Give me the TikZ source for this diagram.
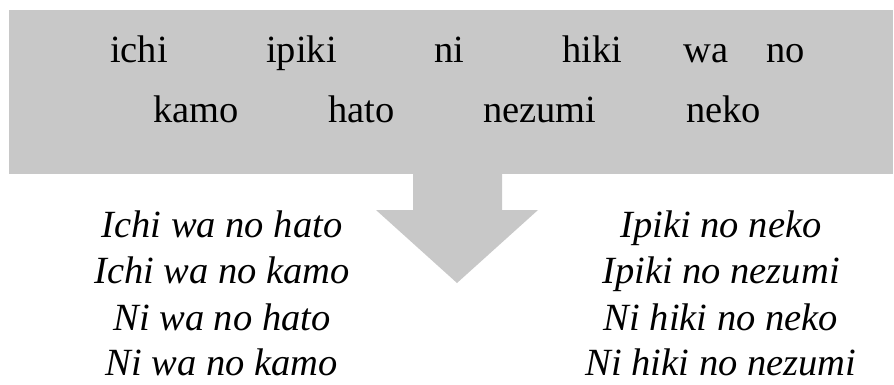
\documentclass[tikz,border=0pt]{standalone}
\usepackage{fontspec}
\setmainfont{Liberation Serif}
\definecolor{boxgray}{HTML}{C8C8C8}
\begin{document}
\begin{tikzpicture}[x=1pt,y=-1pt,
  word/.style={anchor=base west,inner sep=0pt,font=\fontsize{38.5}{46}\selectfont},
  phrase/.style={anchor=base,inner sep=0pt,font=\fontsize{38.5}{46}\selectfont\itshape}]
\useasboundingbox (0,0) rectangle (894,384);
\fill[boxgray] (9,10) rectangle (893,174);
\fill[boxgray] (413,170) -- (502,170) -- (502,210) -- (538,210) -- (457,283) -- (376,210) -- (413,210) -- cycle;
% top row
\node[word] (ichi) at (110,62) {ichi};
\node[word] (ipiki) at (266,62) {ipiki};
\node[word] (ni) at (434,62) {ni};
\node[word] (hiki) at (562,62) {hiki};
\node[word] (wa) at (683,62) {wa};
\node[word] (no) at (766,62) {no};
% second row
\node[word] (kamo) at (153,122) {kamo};
\node[word] (hato) at (328,122) {hato};
\node[word] (nezumi) at (483,122) {nezumi};
\node[word] (neko) at (686,122) {neko};
% left phrases
\node[phrase] (l1) at (222,237) {Ichi wa no hato};
\node[phrase] (l2) at (222,283) {Ichi wa no kamo};
\node[phrase] (l3) at (222,330) {Ni wa no hato};
\node[phrase] (l4) at (222,375) {Ni wa no kamo};
% right phrases
\node[phrase] (r1) at (721,237) {Ipiki no neko};
\node[phrase] (r2) at (721,283) {Ipiki no nezumi};
\node[phrase] (r3) at (721,330) {Ni hiki no neko};
\node[phrase] (r4) at (721,375) {Ni hiki no nezumi};
\end{tikzpicture}
\end{document}
